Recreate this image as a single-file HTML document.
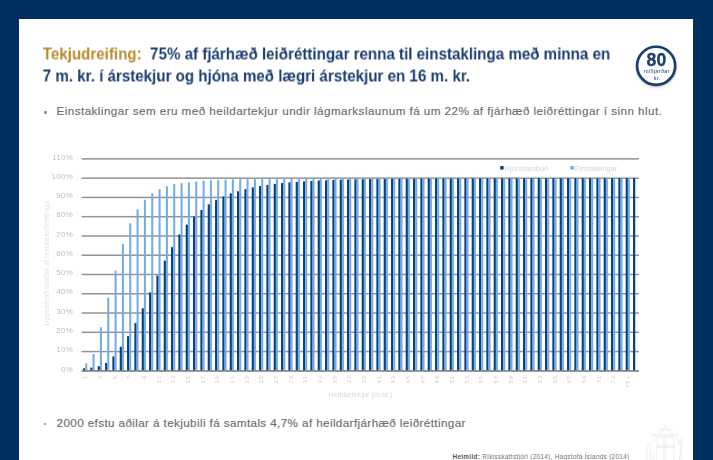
<!DOCTYPE html>
<html><head><meta charset="utf-8"><title>Tekjudreifing</title>
<style>
html,body{margin:0;padding:0;}
body{width:713px;height:460px;background:#00305f;overflow:hidden;position:relative;font-family:"Liberation Sans",sans-serif;}
.panel{position:absolute;left:19px;top:18.5px;width:674px;height:442px;background:#fff;}
.t{position:absolute;white-space:nowrap;font-weight:bold;font-size:16.7px;color:#1b3e6f;transform-origin:0 0;will-change:transform;}
.gold{color:#b88a2c;}
.b{position:absolute;white-space:nowrap;font-size:11.7px;color:#6e6e6e;letter-spacing:0.43px;-webkit-text-stroke:0.15px #6e6e6e;}
.dot{position:absolute;width:2.5px;height:2.5px;border-radius:50%;background:#8a8a8a;}
.src{position:absolute;white-space:nowrap;font-size:6.4px;color:#747474;letter-spacing:0.3px;}
.src b{color:#585858;}
svg{position:absolute;left:0;top:0;}
svg text{font-family:"Liberation Sans",sans-serif;}
</style></head><body>
<div class="panel"></div>
<div class="t" id="t1" style="left:42px;top:44px;transform:translate(0.7px,0.5px) scaleX(0.907);"><span class="gold">Tekjudreifing:</span>&nbsp; 75% af fjárhæð leiðréttingar renna til einstaklinga með minna en</div>
<div class="t" id="t2" style="left:42px;top:66px;transform:translate(0.7px,0.5px) scaleX(0.907);">7 m. kr. í árstekjur og hjóna með lægri árstekjur en 16 m. kr.</div>
<div class="dot" style="left:44px;top:111px;"></div>
<div class="b" id="b1" style="left:56.5px;top:104px;">Einstaklingar sem eru með heildartekjur undir lágmarkslaunum fá um 22% af fjárhæð leiðréttingar í sinn hlut.</div>
<div class="dot" style="left:43.8px;top:422.9px;"></div>
<div class="b" id="b2" style="left:56.5px;top:416.1px;letter-spacing:0.38px;">2000 efstu aðilar á tekjubili fá samtals 4,7% af heildarfjárhæð leiðréttingar</div>
<div class="src" id="src" style="left:452.5px;top:452.8px;"><b>Heimild:</b> Ríkisskattstjóri (2014), Hagstofa Íslands (2014)</div>
<svg width="713" height="460" viewBox="0 0 713 460">
<defs><filter id="sh" x="-30%" y="-30%" width="160%" height="170%"><feDropShadow dx="0" dy="1.2" stdDeviation="1.1" flood-color="#000" flood-opacity="0.22"/></filter><filter id="bl"><feGaussianBlur stdDeviation="0.35"/></filter></defs>
<rect x="81.6" y="370.10" width="557.3" height="1.5" fill="#949494"/>
<rect x="81.6" y="350.83" width="557.3" height="1.5" fill="#949494"/>
<rect x="81.6" y="331.56" width="557.3" height="1.5" fill="#949494"/>
<rect x="81.6" y="312.29" width="557.3" height="1.5" fill="#949494"/>
<rect x="81.6" y="293.02" width="557.3" height="1.5" fill="#949494"/>
<rect x="81.6" y="273.75" width="557.3" height="1.5" fill="#949494"/>
<rect x="81.6" y="254.48" width="557.3" height="1.5" fill="#949494"/>
<rect x="81.6" y="235.21" width="557.3" height="1.5" fill="#949494"/>
<rect x="81.6" y="215.94" width="557.3" height="1.5" fill="#949494"/>
<rect x="81.6" y="196.67" width="557.3" height="1.5" fill="#949494"/>
<rect x="81.6" y="177.40" width="557.3" height="1.5" fill="#949494"/>
<rect x="81.6" y="158.13" width="557.3" height="1.5" fill="#949494"/>
<rect x="83.05" y="368.34" width="2.2" height="2.51" fill="#0b3e7e"/>
<rect x="85.25" y="363.33" width="2.0" height="7.52" fill="#70ace7"/>
<rect x="90.38" y="367.57" width="2.2" height="3.28" fill="#0b3e7e"/>
<rect x="92.58" y="353.89" width="2.0" height="16.96" fill="#70ace7"/>
<rect x="97.72" y="366.23" width="2.2" height="4.62" fill="#0b3e7e"/>
<rect x="99.92" y="327.30" width="2.0" height="43.55" fill="#70ace7"/>
<rect x="105.05" y="362.95" width="2.2" height="7.90" fill="#0b3e7e"/>
<rect x="107.25" y="297.62" width="2.0" height="73.23" fill="#70ace7"/>
<rect x="112.38" y="356.40" width="2.2" height="14.45" fill="#0b3e7e"/>
<rect x="114.58" y="270.65" width="2.0" height="100.20" fill="#70ace7"/>
<rect x="119.71" y="346.76" width="2.2" height="24.09" fill="#0b3e7e"/>
<rect x="121.91" y="243.86" width="2.0" height="126.99" fill="#70ace7"/>
<rect x="127.05" y="336.16" width="2.2" height="34.69" fill="#0b3e7e"/>
<rect x="129.25" y="223.24" width="2.0" height="147.61" fill="#70ace7"/>
<rect x="134.38" y="323.06" width="2.2" height="47.79" fill="#0b3e7e"/>
<rect x="136.58" y="209.37" width="2.0" height="161.48" fill="#70ace7"/>
<rect x="141.71" y="308.22" width="2.2" height="62.63" fill="#0b3e7e"/>
<rect x="143.91" y="199.73" width="2.0" height="171.12" fill="#70ace7"/>
<rect x="149.05" y="292.42" width="2.2" height="78.43" fill="#0b3e7e"/>
<rect x="151.25" y="193.37" width="2.0" height="177.48" fill="#70ace7"/>
<rect x="156.38" y="275.66" width="2.2" height="95.19" fill="#0b3e7e"/>
<rect x="158.58" y="189.13" width="2.0" height="181.72" fill="#70ace7"/>
<rect x="163.71" y="260.63" width="2.2" height="110.22" fill="#0b3e7e"/>
<rect x="165.91" y="186.24" width="2.0" height="184.61" fill="#70ace7"/>
<rect x="171.04" y="247.14" width="2.2" height="123.71" fill="#0b3e7e"/>
<rect x="173.24" y="184.12" width="2.0" height="186.73" fill="#70ace7"/>
<rect x="178.38" y="234.42" width="2.2" height="136.43" fill="#0b3e7e"/>
<rect x="180.58" y="183.16" width="2.0" height="187.69" fill="#70ace7"/>
<rect x="185.71" y="224.59" width="2.2" height="146.26" fill="#0b3e7e"/>
<rect x="187.91" y="182.39" width="2.0" height="188.46" fill="#70ace7"/>
<rect x="193.04" y="216.50" width="2.2" height="154.35" fill="#0b3e7e"/>
<rect x="195.24" y="181.62" width="2.0" height="189.23" fill="#70ace7"/>
<rect x="200.38" y="209.95" width="2.2" height="160.90" fill="#0b3e7e"/>
<rect x="202.58" y="180.85" width="2.0" height="190.00" fill="#70ace7"/>
<rect x="207.71" y="204.36" width="2.2" height="166.49" fill="#0b3e7e"/>
<rect x="209.91" y="180.27" width="2.0" height="190.58" fill="#70ace7"/>
<rect x="215.04" y="199.93" width="2.2" height="170.92" fill="#0b3e7e"/>
<rect x="217.24" y="179.88" width="2.0" height="190.97" fill="#70ace7"/>
<rect x="222.37" y="196.46" width="2.2" height="174.39" fill="#0b3e7e"/>
<rect x="224.57" y="179.69" width="2.0" height="191.16" fill="#70ace7"/>
<rect x="229.71" y="193.37" width="2.2" height="177.48" fill="#0b3e7e"/>
<rect x="231.91" y="179.31" width="2.0" height="191.54" fill="#70ace7"/>
<rect x="237.04" y="191.25" width="2.2" height="179.60" fill="#0b3e7e"/>
<rect x="239.24" y="179.11" width="2.0" height="191.74" fill="#70ace7"/>
<rect x="244.37" y="189.13" width="2.2" height="181.72" fill="#0b3e7e"/>
<rect x="246.57" y="178.92" width="2.0" height="191.93" fill="#70ace7"/>
<rect x="251.71" y="187.40" width="2.2" height="183.45" fill="#0b3e7e"/>
<rect x="253.91" y="178.73" width="2.0" height="192.12" fill="#70ace7"/>
<rect x="259.04" y="186.05" width="2.2" height="184.80" fill="#0b3e7e"/>
<rect x="261.24" y="178.73" width="2.0" height="192.12" fill="#70ace7"/>
<rect x="266.37" y="184.89" width="2.2" height="185.96" fill="#0b3e7e"/>
<rect x="268.57" y="178.66" width="2.0" height="192.19" fill="#70ace7"/>
<rect x="273.71" y="183.93" width="2.2" height="186.92" fill="#0b3e7e"/>
<rect x="275.91" y="178.60" width="2.0" height="192.25" fill="#70ace7"/>
<rect x="281.04" y="182.97" width="2.2" height="187.88" fill="#0b3e7e"/>
<rect x="283.24" y="178.55" width="2.0" height="192.30" fill="#70ace7"/>
<rect x="288.37" y="182.39" width="2.2" height="188.46" fill="#0b3e7e"/>
<rect x="290.57" y="178.50" width="2.0" height="192.35" fill="#70ace7"/>
<rect x="295.70" y="182.00" width="2.2" height="188.85" fill="#0b3e7e"/>
<rect x="297.90" y="178.46" width="2.0" height="192.39" fill="#70ace7"/>
<rect x="303.04" y="181.43" width="2.2" height="189.42" fill="#0b3e7e"/>
<rect x="305.24" y="178.42" width="2.0" height="192.43" fill="#70ace7"/>
<rect x="310.37" y="181.04" width="2.2" height="189.81" fill="#0b3e7e"/>
<rect x="312.57" y="178.39" width="2.0" height="192.46" fill="#70ace7"/>
<rect x="317.70" y="180.46" width="2.2" height="190.39" fill="#0b3e7e"/>
<rect x="319.90" y="178.36" width="2.0" height="192.49" fill="#70ace7"/>
<rect x="325.04" y="180.27" width="2.2" height="190.58" fill="#0b3e7e"/>
<rect x="327.24" y="178.34" width="2.0" height="192.51" fill="#70ace7"/>
<rect x="332.37" y="179.88" width="2.2" height="190.97" fill="#0b3e7e"/>
<rect x="334.57" y="178.32" width="2.0" height="192.53" fill="#70ace7"/>
<rect x="339.70" y="179.69" width="2.2" height="191.16" fill="#0b3e7e"/>
<rect x="341.90" y="178.30" width="2.0" height="192.55" fill="#70ace7"/>
<rect x="347.03" y="179.50" width="2.2" height="191.35" fill="#0b3e7e"/>
<rect x="349.23" y="178.28" width="2.0" height="192.57" fill="#70ace7"/>
<rect x="354.37" y="179.31" width="2.2" height="191.54" fill="#0b3e7e"/>
<rect x="356.57" y="178.26" width="2.0" height="192.59" fill="#70ace7"/>
<rect x="361.70" y="179.17" width="2.2" height="191.68" fill="#0b3e7e"/>
<rect x="363.90" y="178.25" width="2.0" height="192.60" fill="#70ace7"/>
<rect x="369.03" y="179.05" width="2.2" height="191.80" fill="#0b3e7e"/>
<rect x="371.23" y="178.24" width="2.0" height="192.61" fill="#70ace7"/>
<rect x="376.37" y="178.94" width="2.2" height="191.91" fill="#0b3e7e"/>
<rect x="378.57" y="178.23" width="2.0" height="192.62" fill="#70ace7"/>
<rect x="383.70" y="178.85" width="2.2" height="192.00" fill="#0b3e7e"/>
<rect x="385.90" y="178.22" width="2.0" height="192.63" fill="#70ace7"/>
<rect x="391.03" y="178.77" width="2.2" height="192.08" fill="#0b3e7e"/>
<rect x="393.23" y="178.21" width="2.0" height="192.64" fill="#70ace7"/>
<rect x="398.36" y="178.70" width="2.2" height="192.15" fill="#0b3e7e"/>
<rect x="400.56" y="178.20" width="2.0" height="192.65" fill="#70ace7"/>
<rect x="405.70" y="178.63" width="2.2" height="192.22" fill="#0b3e7e"/>
<rect x="407.90" y="178.20" width="2.0" height="192.65" fill="#70ace7"/>
<rect x="413.03" y="178.58" width="2.2" height="192.27" fill="#0b3e7e"/>
<rect x="415.23" y="178.19" width="2.0" height="192.66" fill="#70ace7"/>
<rect x="420.36" y="178.53" width="2.2" height="192.32" fill="#0b3e7e"/>
<rect x="422.56" y="178.19" width="2.0" height="192.66" fill="#70ace7"/>
<rect x="427.70" y="178.48" width="2.2" height="192.37" fill="#0b3e7e"/>
<rect x="429.90" y="178.18" width="2.0" height="192.67" fill="#70ace7"/>
<rect x="435.03" y="178.44" width="2.2" height="192.41" fill="#0b3e7e"/>
<rect x="437.23" y="178.18" width="2.0" height="192.67" fill="#70ace7"/>
<rect x="442.36" y="178.41" width="2.2" height="192.44" fill="#0b3e7e"/>
<rect x="444.56" y="178.18" width="2.0" height="192.67" fill="#70ace7"/>
<rect x="449.69" y="178.38" width="2.2" height="192.47" fill="#0b3e7e"/>
<rect x="451.89" y="178.17" width="2.0" height="192.68" fill="#70ace7"/>
<rect x="457.03" y="178.35" width="2.2" height="192.50" fill="#0b3e7e"/>
<rect x="459.23" y="178.17" width="2.0" height="192.68" fill="#70ace7"/>
<rect x="464.36" y="178.33" width="2.2" height="192.52" fill="#0b3e7e"/>
<rect x="466.56" y="178.17" width="2.0" height="192.68" fill="#70ace7"/>
<rect x="471.69" y="178.31" width="2.2" height="192.54" fill="#0b3e7e"/>
<rect x="473.89" y="178.17" width="2.0" height="192.68" fill="#70ace7"/>
<rect x="479.03" y="178.29" width="2.2" height="192.56" fill="#0b3e7e"/>
<rect x="481.23" y="178.16" width="2.0" height="192.69" fill="#70ace7"/>
<rect x="486.36" y="178.27" width="2.2" height="192.58" fill="#0b3e7e"/>
<rect x="488.56" y="178.16" width="2.0" height="192.69" fill="#70ace7"/>
<rect x="493.69" y="178.26" width="2.2" height="192.59" fill="#0b3e7e"/>
<rect x="495.89" y="178.16" width="2.0" height="192.69" fill="#70ace7"/>
<rect x="501.02" y="178.24" width="2.2" height="192.61" fill="#0b3e7e"/>
<rect x="503.22" y="178.16" width="2.0" height="192.69" fill="#70ace7"/>
<rect x="508.36" y="178.23" width="2.2" height="192.62" fill="#0b3e7e"/>
<rect x="510.56" y="178.16" width="2.0" height="192.69" fill="#70ace7"/>
<rect x="515.69" y="178.22" width="2.2" height="192.63" fill="#0b3e7e"/>
<rect x="517.89" y="178.16" width="2.0" height="192.69" fill="#70ace7"/>
<rect x="523.02" y="178.22" width="2.2" height="192.63" fill="#0b3e7e"/>
<rect x="525.22" y="178.16" width="2.0" height="192.69" fill="#70ace7"/>
<rect x="530.36" y="178.21" width="2.2" height="192.64" fill="#0b3e7e"/>
<rect x="532.56" y="178.16" width="2.0" height="192.69" fill="#70ace7"/>
<rect x="537.69" y="178.20" width="2.2" height="192.65" fill="#0b3e7e"/>
<rect x="539.89" y="178.16" width="2.0" height="192.69" fill="#70ace7"/>
<rect x="545.02" y="178.19" width="2.2" height="192.66" fill="#0b3e7e"/>
<rect x="547.22" y="178.15" width="2.0" height="192.70" fill="#70ace7"/>
<rect x="552.36" y="178.19" width="2.2" height="192.66" fill="#0b3e7e"/>
<rect x="554.56" y="178.15" width="2.0" height="192.70" fill="#70ace7"/>
<rect x="559.69" y="178.18" width="2.2" height="192.67" fill="#0b3e7e"/>
<rect x="561.89" y="178.15" width="2.0" height="192.70" fill="#70ace7"/>
<rect x="567.02" y="178.18" width="2.2" height="192.67" fill="#0b3e7e"/>
<rect x="569.22" y="178.15" width="2.0" height="192.70" fill="#70ace7"/>
<rect x="574.35" y="178.18" width="2.2" height="192.67" fill="#0b3e7e"/>
<rect x="576.55" y="178.15" width="2.0" height="192.70" fill="#70ace7"/>
<rect x="581.69" y="178.17" width="2.2" height="192.68" fill="#0b3e7e"/>
<rect x="583.89" y="178.15" width="2.0" height="192.70" fill="#70ace7"/>
<rect x="589.02" y="178.17" width="2.2" height="192.68" fill="#0b3e7e"/>
<rect x="591.22" y="178.15" width="2.0" height="192.70" fill="#70ace7"/>
<rect x="596.35" y="178.17" width="2.2" height="192.68" fill="#0b3e7e"/>
<rect x="598.55" y="178.15" width="2.0" height="192.70" fill="#70ace7"/>
<rect x="603.69" y="178.17" width="2.2" height="192.68" fill="#0b3e7e"/>
<rect x="605.89" y="178.15" width="2.0" height="192.70" fill="#70ace7"/>
<rect x="611.02" y="178.16" width="2.2" height="192.69" fill="#0b3e7e"/>
<rect x="613.22" y="178.15" width="2.0" height="192.70" fill="#70ace7"/>
<rect x="618.35" y="178.16" width="2.2" height="192.69" fill="#0b3e7e"/>
<rect x="620.55" y="178.15" width="2.0" height="192.70" fill="#70ace7"/>
<rect x="625.68" y="178.16" width="2.2" height="192.69" fill="#0b3e7e"/>
<rect x="627.88" y="178.15" width="2.0" height="192.70" fill="#70ace7"/>
<rect x="633.02" y="178.16" width="2.2" height="192.69" fill="#0b3e7e"/>
<rect x="81.6" y="370.30" width="557.3" height="1.3" fill="#888888"/>
<text x="73" y="371.5" text-anchor="end" font-size="7.9" fill="#bcbcbc" letter-spacing="0.3">0%</text>
<text x="73" y="352.2" text-anchor="end" font-size="7.9" fill="#bcbcbc" letter-spacing="0.3">10%</text>
<text x="73" y="332.9" text-anchor="end" font-size="7.9" fill="#bcbcbc" letter-spacing="0.3">20%</text>
<text x="73" y="313.6" text-anchor="end" font-size="7.9" fill="#bcbcbc" letter-spacing="0.3">30%</text>
<text x="73" y="294.4" text-anchor="end" font-size="7.9" fill="#bcbcbc" letter-spacing="0.3">40%</text>
<text x="73" y="275.1" text-anchor="end" font-size="7.9" fill="#bcbcbc" letter-spacing="0.3">50%</text>
<text x="73" y="255.8" text-anchor="end" font-size="7.9" fill="#bcbcbc" letter-spacing="0.3">60%</text>
<text x="73" y="236.6" text-anchor="end" font-size="7.9" fill="#bcbcbc" letter-spacing="0.3">70%</text>
<text x="73" y="217.3" text-anchor="end" font-size="7.9" fill="#bcbcbc" letter-spacing="0.3">80%</text>
<text x="73" y="198.0" text-anchor="end" font-size="7.9" fill="#bcbcbc" letter-spacing="0.3">90%</text>
<text x="73" y="178.8" text-anchor="end" font-size="7.9" fill="#bcbcbc" letter-spacing="0.3">100%</text>
<text x="73" y="159.5" text-anchor="end" font-size="7.9" fill="#bcbcbc" letter-spacing="0.3">110%</text>
<text transform="translate(87.47,375.0) rotate(-90)" text-anchor="end" font-size="6" fill="#cdcdcd" letter-spacing="0.9">1</text>
<text transform="translate(102.13,375.0) rotate(-90)" text-anchor="end" font-size="6" fill="#cdcdcd" letter-spacing="0.9">3</text>
<text transform="translate(116.80,375.0) rotate(-90)" text-anchor="end" font-size="6" fill="#cdcdcd" letter-spacing="0.9">5</text>
<text transform="translate(131.46,375.0) rotate(-90)" text-anchor="end" font-size="6" fill="#cdcdcd" letter-spacing="0.9">7</text>
<text transform="translate(146.13,375.0) rotate(-90)" text-anchor="end" font-size="6" fill="#cdcdcd" letter-spacing="0.9">9</text>
<text transform="translate(160.80,375.0) rotate(-90)" text-anchor="end" font-size="6" fill="#cdcdcd" letter-spacing="0.9">11</text>
<text transform="translate(175.46,375.0) rotate(-90)" text-anchor="end" font-size="6" fill="#cdcdcd" letter-spacing="0.9">13</text>
<text transform="translate(190.13,375.0) rotate(-90)" text-anchor="end" font-size="6" fill="#cdcdcd" letter-spacing="0.9">15</text>
<text transform="translate(204.79,375.0) rotate(-90)" text-anchor="end" font-size="6" fill="#cdcdcd" letter-spacing="0.9">17</text>
<text transform="translate(219.46,375.0) rotate(-90)" text-anchor="end" font-size="6" fill="#cdcdcd" letter-spacing="0.9">19</text>
<text transform="translate(234.12,375.0) rotate(-90)" text-anchor="end" font-size="6" fill="#cdcdcd" letter-spacing="0.9">21</text>
<text transform="translate(248.79,375.0) rotate(-90)" text-anchor="end" font-size="6" fill="#cdcdcd" letter-spacing="0.9">23</text>
<text transform="translate(263.46,375.0) rotate(-90)" text-anchor="end" font-size="6" fill="#cdcdcd" letter-spacing="0.9">25</text>
<text transform="translate(278.12,375.0) rotate(-90)" text-anchor="end" font-size="6" fill="#cdcdcd" letter-spacing="0.9">27</text>
<text transform="translate(292.79,375.0) rotate(-90)" text-anchor="end" font-size="6" fill="#cdcdcd" letter-spacing="0.9">29</text>
<text transform="translate(307.45,375.0) rotate(-90)" text-anchor="end" font-size="6" fill="#cdcdcd" letter-spacing="0.9">31</text>
<text transform="translate(322.12,375.0) rotate(-90)" text-anchor="end" font-size="6" fill="#cdcdcd" letter-spacing="0.9">33</text>
<text transform="translate(336.78,375.0) rotate(-90)" text-anchor="end" font-size="6" fill="#cdcdcd" letter-spacing="0.9">35</text>
<text transform="translate(351.45,375.0) rotate(-90)" text-anchor="end" font-size="6" fill="#cdcdcd" letter-spacing="0.9">37</text>
<text transform="translate(366.12,375.0) rotate(-90)" text-anchor="end" font-size="6" fill="#cdcdcd" letter-spacing="0.9">39</text>
<text transform="translate(380.78,375.0) rotate(-90)" text-anchor="end" font-size="6" fill="#cdcdcd" letter-spacing="0.9">41</text>
<text transform="translate(395.45,375.0) rotate(-90)" text-anchor="end" font-size="6" fill="#cdcdcd" letter-spacing="0.9">43</text>
<text transform="translate(410.11,375.0) rotate(-90)" text-anchor="end" font-size="6" fill="#cdcdcd" letter-spacing="0.9">45</text>
<text transform="translate(424.78,375.0) rotate(-90)" text-anchor="end" font-size="6" fill="#cdcdcd" letter-spacing="0.9">47</text>
<text transform="translate(439.45,375.0) rotate(-90)" text-anchor="end" font-size="6" fill="#cdcdcd" letter-spacing="0.9">49</text>
<text transform="translate(454.11,375.0) rotate(-90)" text-anchor="end" font-size="6" fill="#cdcdcd" letter-spacing="0.9">51</text>
<text transform="translate(468.78,375.0) rotate(-90)" text-anchor="end" font-size="6" fill="#cdcdcd" letter-spacing="0.9">53</text>
<text transform="translate(483.44,375.0) rotate(-90)" text-anchor="end" font-size="6" fill="#cdcdcd" letter-spacing="0.9">55</text>
<text transform="translate(498.11,375.0) rotate(-90)" text-anchor="end" font-size="6" fill="#cdcdcd" letter-spacing="0.9">57</text>
<text transform="translate(512.77,375.0) rotate(-90)" text-anchor="end" font-size="6" fill="#cdcdcd" letter-spacing="0.9">59</text>
<text transform="translate(527.44,375.0) rotate(-90)" text-anchor="end" font-size="6" fill="#cdcdcd" letter-spacing="0.9">61</text>
<text transform="translate(542.11,375.0) rotate(-90)" text-anchor="end" font-size="6" fill="#cdcdcd" letter-spacing="0.9">63</text>
<text transform="translate(556.77,375.0) rotate(-90)" text-anchor="end" font-size="6" fill="#cdcdcd" letter-spacing="0.9">65</text>
<text transform="translate(571.44,375.0) rotate(-90)" text-anchor="end" font-size="6" fill="#cdcdcd" letter-spacing="0.9">67</text>
<text transform="translate(586.10,375.0) rotate(-90)" text-anchor="end" font-size="6" fill="#cdcdcd" letter-spacing="0.9">69</text>
<text transform="translate(600.77,375.0) rotate(-90)" text-anchor="end" font-size="6" fill="#cdcdcd" letter-spacing="0.9">71</text>
<text transform="translate(615.43,375.0) rotate(-90)" text-anchor="end" font-size="6" fill="#cdcdcd" letter-spacing="0.9">73</text>
<text transform="translate(630.10,375.0) rotate(-90)" text-anchor="end" font-size="6" fill="#cdcdcd" letter-spacing="0.9">75+</text>
<rect x="500.2" y="166" width="3.4" height="3.6" fill="#0b3e7e"/>
<text x="504.6" y="170.7" font-size="7.4" fill="#d4d4d4">Hjón/sambúð</text>
<rect x="570.4" y="166" width="3.4" height="3.6" fill="#70ace7"/>
<text x="574.8" y="170.7" font-size="7.4" fill="#d4d4d4">Einstaklingar</text>
<text transform="translate(48.7,263.5) rotate(-90)" text-anchor="middle" font-size="7.2" fill="#e3e3e3">Uppsafnað hlutfall af heildarleiðréttingu</text>
<text x="360.4" y="397.2" text-anchor="middle" font-size="7.3" fill="#d8d8d8">Heildartekjur (m.kr.)</text>
<g id="crest" fill="none" stroke="#dedede" stroke-width="0.7" opacity="0.75" filter="url(#bl)">
<path d="M657 437h17v23M657 437v23M665.3 437v23M657 447.5h17M663.8 437v23M657 446h17"/>
<path d="M650.5 434.3h28.5M652 436h26"/>
<path d="M658 434l3-6 2.5 3 2-6.5 2 6.500 2.500-3 3 6"/>
<path d="M660 433.500c2-3 3.500-4 5.500-4s3.500 1 5.500 4"/>
<path d="M675.500 438c2.500 1 4 3 4.500 6s0 8-.5 16M677 441.500c1.500.5 2.500 1.500 3 3M681.300 437v23"/>
<path d="M655.500 440c-3 .5-5.500 2.500-7 5.500s-2 7-1.500 14.500M652 446c-1.500 2-2 6-1.500 14M646 444.500l3 2M654 451v9"/>
</g>
<g id="badge">
<circle cx="656.15" cy="65.8" r="19.05" fill="#fff" stroke="#1b3e6f" stroke-width="2.7" filter="url(#sh)"/>
<text x="656.4" y="65.9" text-anchor="middle" font-size="18.6" font-weight="bold" fill="#1b3e6f" stroke="#1b3e6f" stroke-width="0.3" textLength="19.6" lengthAdjust="spacingAndGlyphs">80</text>
<text x="657" y="73" text-anchor="middle" font-size="5.5" fill="#1b3e6f" letter-spacing="0.35">milljarðar</text>
<text x="657.3" y="80.3" text-anchor="middle" font-size="5.5" fill="#1b3e6f" letter-spacing="0.35">kr.</text>
</g>
</svg>
</body></html>
